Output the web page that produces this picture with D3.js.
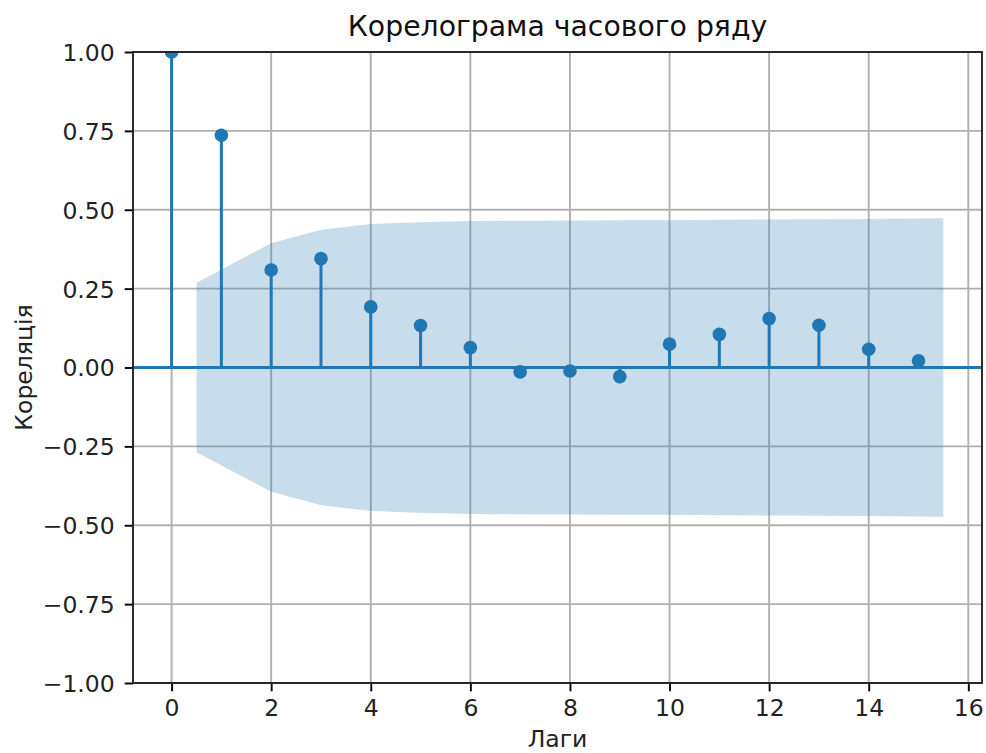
<!DOCTYPE html>
<html>
<head>
<meta charset="utf-8">
<script src="https://cdn.jsdelivr.net/npm/d3@7"></script>
<style>
  html, body { margin: 0; padding: 0; background: #fff; }
  svg { display: block; font-family: "DejaVu Sans", sans-serif; }
</style>
</head>
<body>
<svg id="chart" width="986" height="753"></svg>
<script>
// Autocorrelation at each lag
const lags = [0, 1, 2, 3, 4, 5, 6, 7, 8, 9, 10, 11, 12, 13, 14, 15];
const acfValues = [1.0, 0.736, 0.309, 0.345, 0.192, 0.133, 0.063, -0.014, -0.011, -0.029, 0.074, 0.105, 0.155, 0.134, 0.058, 0.021];
// Half-width of the 95% confidence band for lags 1..15
const confHalfWidth = [0.269, 0.394, 0.437, 0.455, 0.460, 0.464, 0.465, 0.466, 0.467, 0.467, 0.468, 0.469, 0.470, 0.471, 0.473];
// Axis ticks
const xTicks = [0, 2, 4, 6, 8, 10, 12, 14, 16];
const yTicks = [-1.0, -0.75, -0.5, -0.25, 0.0, 0.25, 0.5, 0.75, 1.0];

const titleText = "Корелограма часового ряду";
const xLabelText = "Лаги";
const yLabelText = "Кореляція";

const blue = "#1f77b4";
const fontSize = 23.5;

const svg = d3.select("#chart");
const plot = { left: 133, right: 982, top: 52, bottom: 683 };

const x = d3.scaleLinear().domain([-0.775, 16.275]).range([plot.left, plot.right]);
const y = d3.scaleLinear().domain([-1, 1]).range([plot.bottom, plot.top]);

svg.append("rect").attr("width", 986).attr("height", 753).attr("fill", "#fff");

svg.append("defs").append("clipPath").attr("id", "plot-clip")
  .append("rect")
  .attr("x", plot.left).attr("y", plot.top)
  .attr("width", plot.right - plot.left).attr("height", plot.bottom - plot.top);

// Grid
const grid = svg.append("g").attr("stroke", "#b0b0b0").attr("stroke-width", 1.9);
grid.selectAll("line.gx").data(xTicks).join("line")
  .attr("x1", d => x(d)).attr("x2", d => x(d))
  .attr("y1", plot.top).attr("y2", plot.bottom);
grid.selectAll("line.gy").data(yTicks).join("line")
  .attr("y1", d => y(d)).attr("y2", d => y(d))
  .attr("x1", plot.left).attr("x2", plot.right);

const marks = svg.append("g").attr("clip-path", "url(#plot-clip)");

// Confidence band: lags 1..15, ends widened by half a lag
const bandLags = lags.slice(1).map((l, i, arr) =>
  i === 0 ? l - 0.5 : (i === arr.length - 1 ? l + 0.5 : l));
const bandData = bandLags.map((l, i) => ({ lag: l, hw: confHalfWidth[i] }));
marks.append("path")
  .datum(bandData)
  .attr("fill", blue)
  .attr("fill-opacity", 0.25)
  .attr("d", d3.area()
    .x(d => x(d.lag))
    .y0(d => y(-d.hw))
    .y1(d => y(d.hw)));

// Zero line
marks.append("line")
  .attr("x1", plot.left).attr("x2", plot.right)
  .attr("y1", y(0)).attr("y2", y(0))
  .attr("stroke", blue).attr("stroke-width", 3);

const points = lags.map((l, i) => ({ lag: l, value: acfValues[i] }));

// Stems
marks.selectAll("line.stem").data(points).join("line")
  .attr("class", "stem")
  .attr("x1", d => x(d.lag)).attr("x2", d => x(d.lag))
  .attr("y1", y(0)).attr("y2", d => y(d.value))
  .attr("stroke", blue).attr("stroke-width", 3);

// Markers
marks.selectAll("circle.pt").data(points).join("circle")
  .attr("class", "pt")
  .attr("cx", d => x(d.lag)).attr("cy", d => y(d.value))
  .attr("r", 6.8).attr("fill", blue);

// Axes
const xAxis = d3.axisBottom(x).tickValues(xTicks).tickFormat(d3.format("d"))
  .tickSize(8.3).tickPadding(8);
const yAxis = d3.axisLeft(y).tickValues(yTicks)
  .tickFormat(d => (d < 0 ? "\u2212" : "") + Math.abs(d).toFixed(2))
  .tickSize(8.3).tickPadding(10);

const gx = svg.append("g").attr("transform", `translate(0,${plot.bottom})`).call(xAxis);
const gy = svg.append("g").attr("transform", `translate(${plot.left},0)`).call(yAxis);
[gx, gy].forEach(g => {
  g.select(".domain").remove();
  g.selectAll(".tick line").attr("stroke", "#000").attr("stroke-width", 1.9);
  g.selectAll(".tick text").attr("fill", "#222").attr("font-size", fontSize)
    .attr("font-family", "DejaVu Sans");
});
gx.selectAll(".tick text").attr("dy", "0.71em");
gy.selectAll(".tick text").attr("dy", "0.36em");

// Frame
svg.append("rect")
  .attr("x", plot.left).attr("y", plot.top)
  .attr("width", plot.right - plot.left).attr("height", plot.bottom - plot.top)
  .attr("fill", "none").attr("stroke", "#222").attr("stroke-width", 1.9);

// Title and axis labels
svg.append("text")
  .attr("x", (plot.left + plot.right) / 2).attr("y", 36)
  .attr("text-anchor", "middle").attr("font-size", 28.3).attr("fill", "#111")
  .text(titleText);

svg.append("text")
  .attr("x", (plot.left + plot.right) / 2).attr("y", 747)
  .attr("text-anchor", "middle").attr("font-size", fontSize).attr("fill", "#222")
  .text(xLabelText);

svg.append("text")
  .attr("transform", `translate(32,${(plot.top + plot.bottom) / 2}) rotate(-90)`)
  .attr("text-anchor", "middle").attr("font-size", fontSize).attr("fill", "#222")
  .text(yLabelText);
</script>
</body>
</html>
